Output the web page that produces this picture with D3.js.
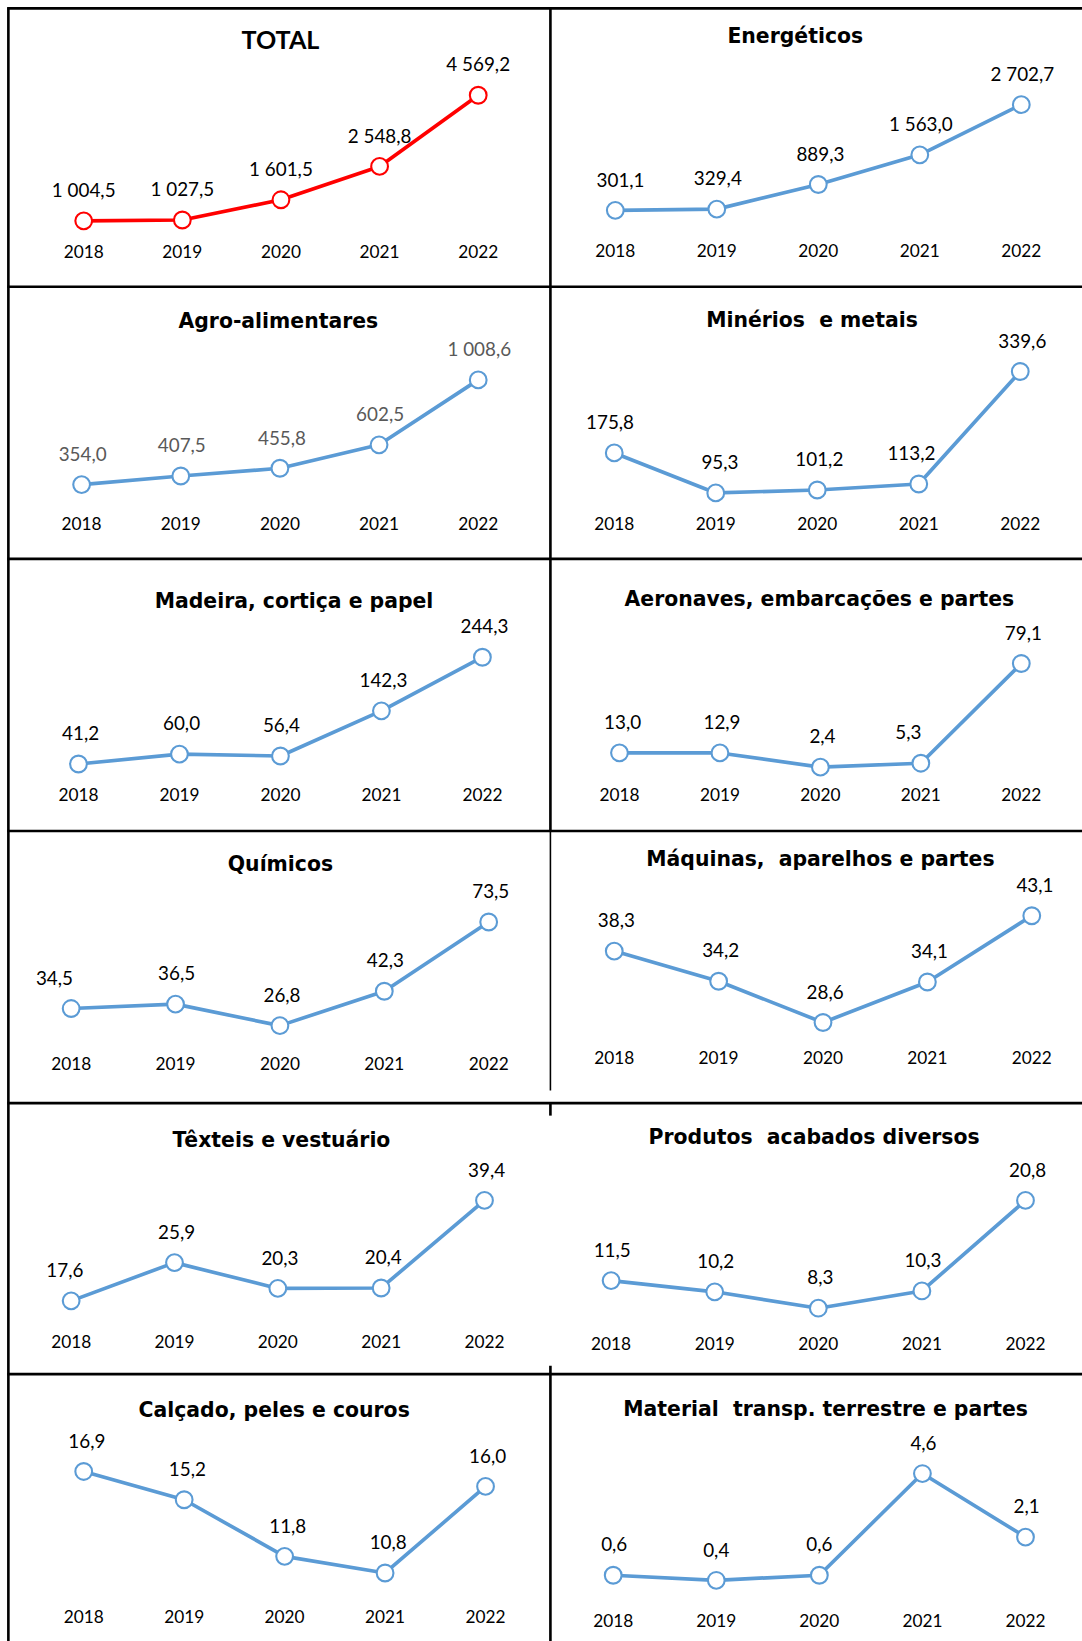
<!DOCTYPE html>
<html>
<head>
<meta charset="utf-8">
<script src="https://cdn.jsdelivr.net/npm/d3@7/dist/d3.min.js"></script>
<style>
  html, body { margin: 0; padding: 0; background: #fff; }
  svg { display: block; }
  text { white-space: pre; }
</style>
</head>
<body>
<svg class="chart"></svg>
<script>
// ---- data ----
var years = ["2018", "2019", "2020", "2021", "2022"];

var totalValues       = [1004.5, 1027.5, 1601.5, 2548.8, 4569.2];
var energeticos       = [301.1, 329.4, 889.3, 1563.0, 2702.7];
var agroAlimentares   = [354.0, 407.5, 455.8, 602.5, 1008.6];
var mineriosMetais    = [175.8, 95.3, 101.2, 113.2, 339.6];
var madeiraPapel      = [41.2, 60.0, 56.4, 142.3, 244.3];
var aeronaves         = [13.0, 12.9, 2.4, 5.3, 79.1];
var quimicos          = [34.5, 36.5, 26.8, 42.3, 73.5];
var maquinas          = [38.3, 34.2, 28.6, 34.1, 43.1];
var texteis           = [17.6, 25.9, 20.3, 20.4, 39.4];
var produtosDiversos  = [11.5, 10.2, 8.3, 10.3, 20.8];
var calcado           = [16.9, 15.2, 11.8, 10.8, 16.0];
var materialTransp    = [0.6, 0.4, 0.6, 4.6, 2.1];

var titles = ["TOTAL", "Energéticos", "Agro-alimentares", "Minérios  e metais",
              "Madeira, cortiça e papel", "Aeronaves, embarcações e partes",
              "Químicos", "Máquinas,  aparelhos e partes", "Têxteis e vestuário",
              "Produtos  acabados diversos", "Calçado, peles e couros",
              "Material  transp. terrestre e partes"];

var series = [totalValues, energeticos, agroAlimentares, mineriosMetais, madeiraPapel, aeronaves,
              quimicos, maquinas, texteis, produtosDiversos, calcado, materialTransp];

// ---- layout (page units, 1034 x 1568 viewBox) ----
const VIEW_W = 1034;
const VIEW_H = 1568;
const BLUE = "#5b9bd5";
const RED = "#ff0000";
const LABEL_FONT = "Lato, 'Noto Sans', sans-serif";
const TITLE_FONT = "'DejaVu Sans', Verdana, sans-serif";
const LABEL_GAP = 29;

// per panel: x of first/last year, y of min/max value, title position, year-label y
var layout = [
  { x: [80, 457],  y: [211, 91],    title: [268, 38],   yearY: 241,  color: RED,  dx: [0, 0, 0, 0, 0] },
  { x: [588, 976], y: [201, 100],   title: [760, 34],   yearY: 240,  color: BLUE, dx: [5, 1, 2, 1, 1] },
  { x: [78, 457],  y: [463, 363],   title: [266, 307],  yearY: 501,  color: BLUE, dx: [1, 1, 2, 1, 1], labelColor: "#595959" },
  { x: [587, 975], y: [471, 355],   title: [776, 306],  yearY: 501,  color: BLUE, dx: [-4, 4, 2, -7, 2] },
  { x: [75, 461],  y: [730, 628],   title: [281, 574],  yearY: 760,  color: BLUE, dx: [2, 2, 1, 2, 2] },
  { x: [592, 976], y: [733, 634],   title: [783, 572],  yearY: 760,  color: BLUE, dx: [3, 2, 2, -12, 2] },
  { x: [68, 467],  y: [980, 881],   title: [268, 825],  yearY: 1017, color: BLUE, dx: [-16, 1, 2, 1, 2] },
  { x: [587, 986], y: [977, 875],   title: [784, 821],  yearY: 1011, color: BLUE, dx: [2, 2, 2, 2, 3] },
  { x: [68, 463],  y: [1243, 1147], title: [269, 1089], yearY: 1282, color: BLUE, dx: [-6, 2, 2, 2, 2] },
  { x: [584, 980], y: [1250, 1147], title: [778, 1086], yearY: 1284, color: BLUE, dx: [1, 1, 2, 1, 2] },
  { x: [80, 464],  y: [1503, 1406], title: [262, 1347], yearY: 1545, color: BLUE, dx: [3, 3, 3, 3, 2] },
  { x: [586, 980], y: [1510, 1408], title: [789, 1346], yearY: 1549, color: BLUE, dx: [1, 0, 0, 1, 1] }
];

var chart = d3.select(".chart")
  .attr("width", 1082)
  .attr("height", 1641)
  .attr("viewBox", "0 0 " + VIEW_W + " " + VIEW_H)
  .attr("preserveAspectRatio", "none");

chart.append("rect").attr("width", VIEW_W).attr("height", VIEW_H).attr("fill", "#fff");

// Table borders
var borders = chart.append("g").attr("stroke", "#000").attr("stroke-width", 2.5);
[8, 274, 534, 794, 1054, 1313].forEach(function(y) {
  borders.append("line").attr("x1", 7).attr("x2", VIEW_W).attr("y1", y).attr("y2", y);
});
borders.append("line").attr("x1", 8).attr("x2", 8).attr("y1", 7).attr("y2", VIEW_H);
[[7, 794], [794, 1042], [1054, 1066], [1305, 1313], [1313, VIEW_H]].forEach(function(seg, i) {
  borders.append("line")
    .attr("x1", 526).attr("x2", 526)
    .attr("y1", seg[0]).attr("y2", seg[1])
    .attr("stroke-width", i == 1 ? 1.5 : 2.5);
});

// value labels, pt-PT style: space thousands, comma decimal
var fmt = d3.formatLocale({ decimal: ",", thousands: " ", grouping: [3], currency: ["", ""] }).format(",.1f");

// Panels
series.forEach(function(values, i) {
  var L = layout[i];
  var g = chart.append("g");

  var x = d3.scalePoint().domain(years).range(L.x);
  var y = d3.scaleLinear().domain(d3.extent(values)).range(L.y);

  g.append("text")
    .attr("x", L.title[0])
    .attr("y", L.title[1])
    .attr("dy", ".35em")
    .attr("text-anchor", "middle")
    .attr("font-family", i == 0 ? "Lato, 'Liberation Sans', sans-serif" : TITLE_FONT)
    .attr("font-size", i == 0 ? 24 : 19.5)
    .attr("font-weight", "bold")
    .attr("fill", "#000")
    .text(titles[i]);

  var line = d3.line()
    .x(function(d, j) { return x(years[j]); })
    .y(function(d) { return y(d); });

  g.append("path")
    .datum(values)
    .attr("d", line)
    .attr("fill", "none")
    .attr("stroke", L.color)
    .attr("stroke-width", 3.5)
    .attr("stroke-linejoin", "round");

  g.selectAll("circle")
    .data(values)
    .enter().append("circle")
    .attr("cx", function(d, j) { return x(years[j]); })
    .attr("cy", function(d) { return y(d); })
    .attr("r", 8)
    .attr("fill", "#fff")
    .attr("stroke", L.color)
    .attr("stroke-width", 2);

  g.selectAll("text.value")
    .data(values)
    .enter().append("text")
    .attr("class", "value")
    .attr("x", function(d, j) { return x(years[j]) + L.dx[j]; })
    .attr("y", function(d) { return y(d) - LABEL_GAP; })
    .attr("dy", ".35em")
    .attr("text-anchor", "middle")
    .attr("font-family", LABEL_FONT)
    .attr("font-size", 18)
    .attr("fill", L.labelColor || "#000")
    .text(function(d) { return fmt(d); });

  g.selectAll("text.year")
    .data(years)
    .enter().append("text")
    .attr("class", "year")
    .attr("x", function(d) { return x(d); })
    .attr("y", L.yearY)
    .attr("dy", ".35em")
    .attr("text-anchor", "middle")
    .attr("font-family", LABEL_FONT)
    .attr("font-size", 16.5)
    .attr("fill", "#000")
    .text(function(d) { return d; });
});
</script>
</body>
</html>
